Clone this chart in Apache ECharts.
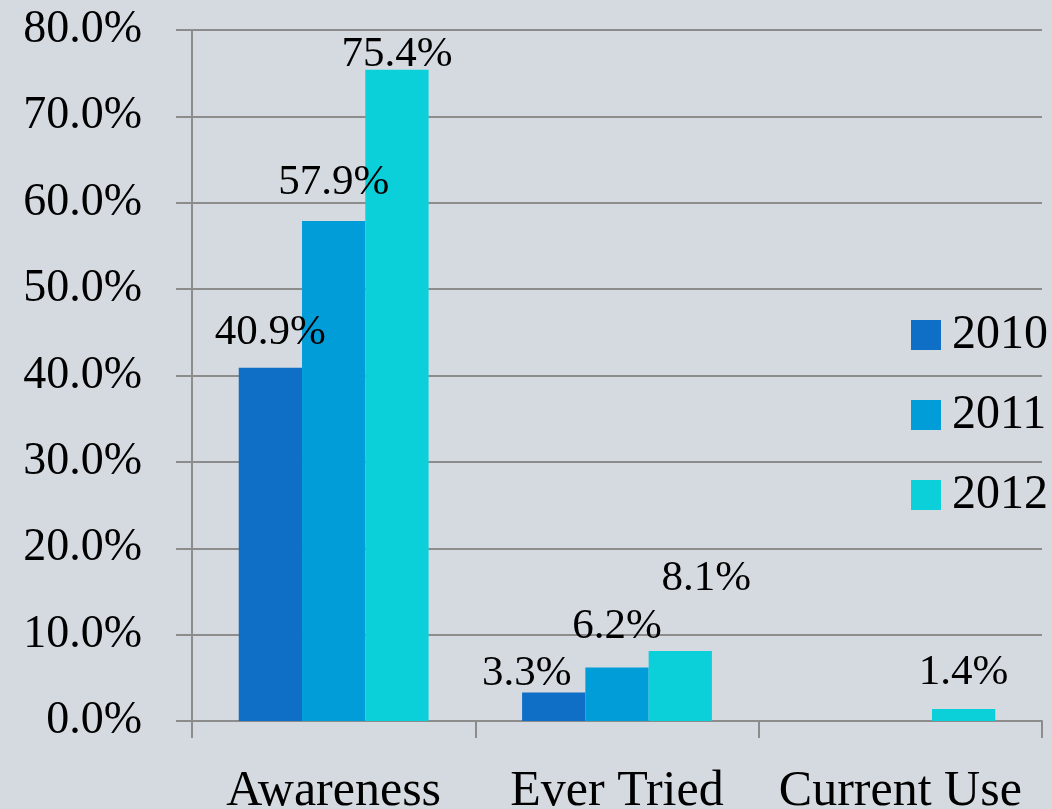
<!DOCTYPE html>
<html>
<head>
<meta charset="utf-8">
<script src="https://cdn.jsdelivr.net/npm/echarts@6/dist/echarts.min.js"></script>
<style>
    html, body { margin: 0; padding: 0; background: #d5dae1; }
    #chart { width: 1052px; height: 809px; }
</style>
</head>
<body>
<div id="chart"></div>
<script>
// values in percent
const categories = ['Awareness', 'Ever Tried', 'Current Use'];
const years = ['2010', '2011', '2012'];
const values2010 = [40.9, 3.3, null];
const values2011 = [57.9, 6.2, null];
const values2012 = [75.4, 8.1, 1.4];
const yTicks = { min: 0, max: 80, interval: 10 };

const colors = ['#0F6FC6', '#009DD9', '#0BD0D9'];
const FONT = 'Liberation Serif';

// label nudges [dx, dy] per series, per category (Excel moved a few labels around)
const labelNudge = [
    [[0, -14], [-27, 3], [0, 0]],
    [[0, -17], [0, -19], [0, 0]],
    [[0, 6], [26, -51], [0, -15]]
];

function buildSeries(name, values, idx) {
    return {
        name: name,
        type: 'bar',
        barGap: 0,
        barCategoryGap: '33%',
        itemStyle: { color: colors[idx] },
        label: {
            show: true,
            position: 'top',
            distance: 0,
            color: '#000',
            fontFamily: FONT,
            fontSize: 43,
            formatter: p => p.value.toFixed(1) + '%'
        },
        data: values.map((v, i) => ({
            value: v,
            label: { offset: labelNudge[idx][i] }
        }))
    };
}

let chart = echarts.init(document.getElementById('chart'));
chart.setOption({
    backgroundColor: '#d5dae1',
    animation: false,
    textStyle: { fontFamily: FONT },
    grid: {
        left: 192,
        right: 10,
        top: 30,
        bottom: 88,
        outerBoundsMode: 'none'
    },
    legend: {
        orient: 'vertical',
        left: 906,
        top: 306,
        icon: 'rect',
        itemWidth: 30,
        itemHeight: 30,
        itemGap: 32,
        textStyle: {
            fontFamily: FONT,
            fontSize: 48,
            color: '#000',
            padding: [0, 0, 0, 6]
        },
        data: years
    },
    xAxis: {
        type: 'category',
        data: categories,
        axisLine: { lineStyle: { color: '#8c8c8c', width: 2 } },
        axisTick: { show: true, length: 17, interval: 0, lineStyle: { color: '#8c8c8c', width: 2 } },
        axisLabel: {
            color: '#000',
            fontFamily: FONT,
            fontSize: 50,
            margin: 46,
            interval: 0
        }
    },
    yAxis: {
        type: 'value',
        min: yTicks.min,
        max: yTicks.max,
        interval: yTicks.interval,
        axisLine: { show: true, lineStyle: { color: '#8c8c8c', width: 2 } },
        axisTick: { show: true, length: 16, lineStyle: { color: '#8c8c8c', width: 2 } },
        splitLine: { lineStyle: { color: '#8c8c8c', width: 2 } },
        axisLabel: {
            color: '#000',
            fontFamily: FONT,
            fontSize: 46,
            margin: 50,
            formatter: v => v.toFixed(1) + '%'
        }
    },
    series: [
        buildSeries(years[0], values2010, 0),
        buildSeries(years[1], values2011, 1),
        buildSeries(years[2], values2012, 2)
    ]
});
</script>
</body>
</html>
